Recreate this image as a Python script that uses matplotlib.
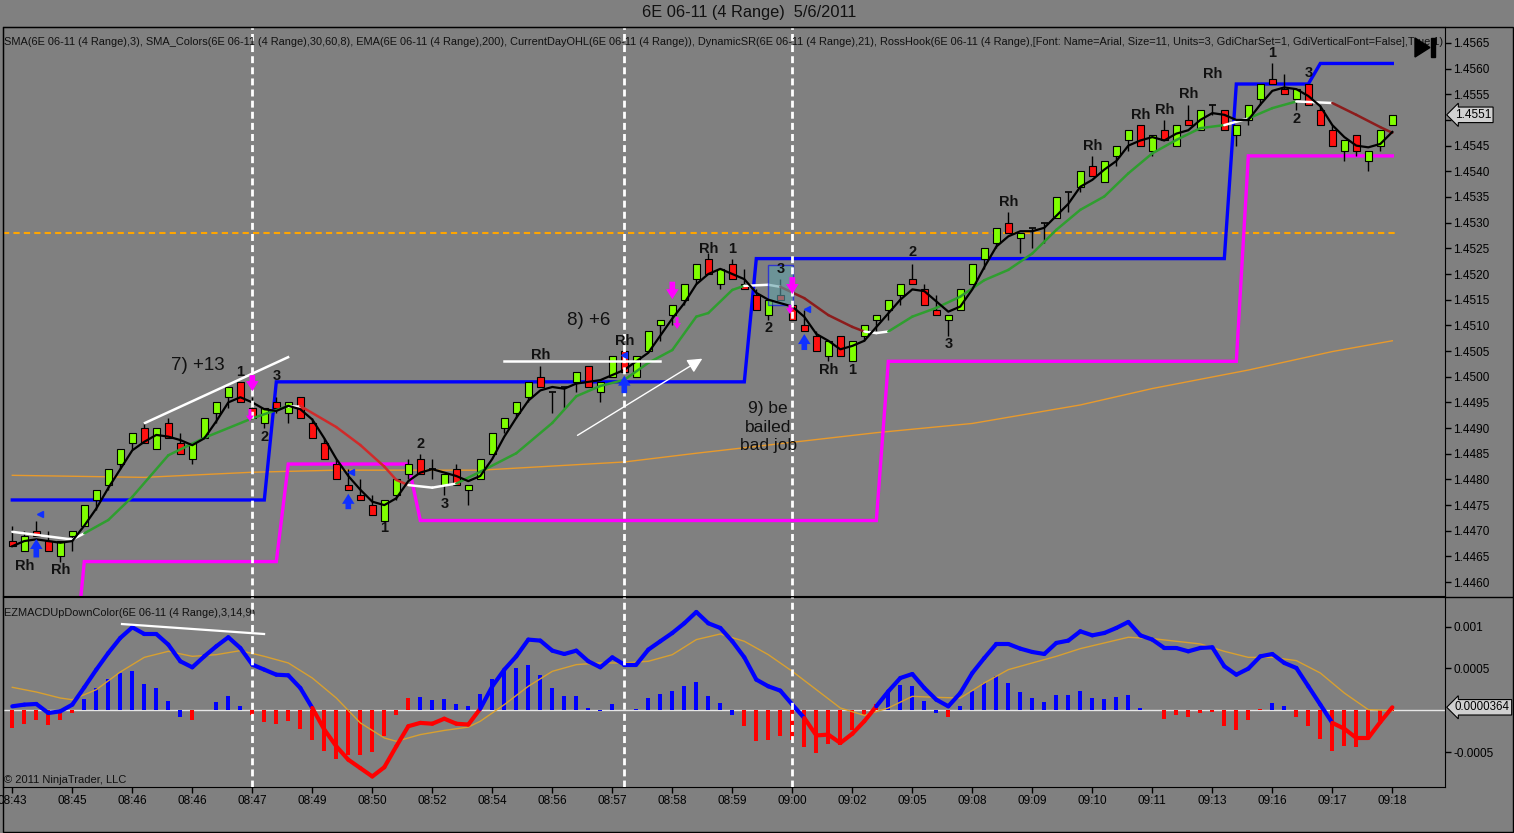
import matplotlib
matplotlib.use('Agg')
import matplotlib.pyplot as plt
import numpy as np
import pandas as pd
from matplotlib.collections import LineCollection
from matplotlib.lines import Line2D
from matplotlib.patches import Rectangle, Polygon

plt.rcParams['font.family'] = ['Liberation Sans', 'DejaVu Sans']

W, H = 1514, 833
BG = '#808080'

# ---- 4 range bars, 6E 06-11 ----
opens = [1.4468, 1.4466, 1.4470, 1.4468, 1.4465, 1.4469, 1.4471, 1.4476, 1.4479, 1.4483,
         1.4487, 1.4490, 1.4486, 1.4491, 1.4487, 1.4484, 1.4488, 1.4493, 1.4496, 1.4499,
         1.4494, 1.4491, 1.4495, 1.4493, 1.4496, 1.4491, 1.4487, 1.4483, 1.4479, 1.4477,
         1.4475, 1.4472, 1.4477, 1.4481, 1.4484, 1.4482, 1.4479, 1.4482, 1.4478, 1.4480,
         1.4485, 1.4490, 1.4493, 1.4496, 1.4500, 1.4497, 1.4498, 1.4499, 1.4502, 1.4497,
         1.4500, 1.4505, 1.4500, 1.4505, 1.4510, 1.4512, 1.4515, 1.4519, 1.4523, 1.4518,
         1.4522, 1.4518, 1.4516, 1.4512, 1.4516, 1.4514, 1.4510, 1.4508, 1.4504, 1.4508,
         1.4503, 1.4508, 1.4511, 1.4513, 1.4516, 1.4519, 1.4517, 1.4513, 1.4511, 1.4513,
         1.4518, 1.4523, 1.4526, 1.4530, 1.4527, 1.4529, 1.4530, 1.4531, 1.4536, 1.4537,
         1.4541, 1.4538, 1.4543, 1.4546, 1.4549, 1.4544, 1.4548, 1.4545, 1.4550, 1.4548,
         1.4553, 1.4552, 1.4547, 1.4550, 1.4554, 1.4558, 1.4556, 1.4554, 1.4557, 1.4552,
         1.4548, 1.4544, 1.4547, 1.4542, 1.4545, 1.4549]
highs = [1.4471, 1.4470, 1.4472, 1.4470, 1.4468, 1.4470, 1.4475, 1.4478, 1.4482, 1.4486,
         1.4489, 1.4491, 1.4490, 1.4492, 1.4489, 1.4487, 1.4492, 1.4495, 1.4498, 1.4499,
         1.4496, 1.4494, 1.4496, 1.4495, 1.4496, 1.4492, 1.4488, 1.4484, 1.4482, 1.4480,
         1.4477, 1.4476, 1.4480, 1.4484, 1.4485, 1.4484, 1.4481, 1.4483, 1.4479, 1.4484,
         1.4489, 1.4492, 1.4495, 1.4499, 1.4502, 1.4497, 1.4498, 1.4501, 1.4502, 1.4499,
         1.4504, 1.4505, 1.4504, 1.4509, 1.4511, 1.4514, 1.4518, 1.4522, 1.4524, 1.4521,
         1.4523, 1.4521, 1.4517, 1.4515, 1.4519, 1.4515, 1.4513, 1.4509, 1.4507, 1.4508,
         1.4507, 1.4510, 1.4512, 1.4515, 1.4518, 1.4522, 1.4518, 1.4516, 1.4512, 1.4517,
         1.4522, 1.4525, 1.4529, 1.4532, 1.4528, 1.4529, 1.4530, 1.4535, 1.4536, 1.4540,
         1.4543, 1.4542, 1.4545, 1.4548, 1.4549, 1.4547, 1.4550, 1.4549, 1.4553, 1.4552,
         1.4553, 1.4552, 1.4549, 1.4553, 1.4557, 1.4561, 1.4559, 1.4556, 1.4557, 1.4553,
         1.4549, 1.4546, 1.4547, 1.4544, 1.4548, 1.4551]
lows = [1.4467, 1.4466, 1.4469, 1.4466, 1.4464, 1.4466, 1.4471, 1.4474, 1.4478, 1.4482,
        1.4486, 1.4487, 1.4486, 1.4488, 1.4485, 1.4483, 1.4488, 1.4491, 1.4494, 1.4495,
        1.4492, 1.4490, 1.4493, 1.4491, 1.4492, 1.4488, 1.4484, 1.4480, 1.4478, 1.4476,
        1.4473, 1.4472, 1.4476, 1.4480, 1.4481, 1.4480, 1.4477, 1.4479, 1.4475, 1.4480,
        1.4485, 1.4489, 1.4492, 1.4495, 1.4498, 1.4493, 1.4494, 1.4497, 1.4498, 1.4495,
        1.4500, 1.4501, 1.4500, 1.4505, 1.4507, 1.4510, 1.4514, 1.4518, 1.4520, 1.4517,
        1.4519, 1.4517, 1.4513, 1.4511, 1.4515, 1.4511, 1.4509, 1.4505, 1.4503, 1.4504,
        1.4503, 1.4507, 1.4509, 1.4511, 1.4514, 1.4518, 1.4514, 1.4512, 1.4508, 1.4513,
        1.4518, 1.4521, 1.4525, 1.4528, 1.4524, 1.4525, 1.4526, 1.4531, 1.4532, 1.4536,
        1.4539, 1.4538, 1.4541, 1.4544, 1.4545, 1.4543, 1.4546, 1.4545, 1.4549, 1.4548,
        1.4551, 1.4548, 1.4545, 1.4549, 1.4553, 1.4557, 1.4555, 1.4552, 1.4553, 1.4549,
        1.4545, 1.4542, 1.4543, 1.4540, 1.4544, 1.4549]
closes = [1.4467, 1.4469, 1.4469, 1.4466, 1.4468, 1.4470, 1.4475, 1.4478, 1.4482, 1.4486,
          1.4489, 1.4487, 1.4490, 1.4488, 1.4485, 1.4487, 1.4492, 1.4495, 1.4498, 1.4495,
          1.4492, 1.4494, 1.4494, 1.4495, 1.4492, 1.4488, 1.4484, 1.4480, 1.4478, 1.4476,
          1.4473, 1.4476, 1.4480, 1.4483, 1.4481, 1.4482, 1.4481, 1.4479, 1.4479, 1.4484,
          1.4489, 1.4492, 1.4495, 1.4499, 1.4498, 1.4497, 1.4498, 1.4501, 1.4498, 1.4499,
          1.4504, 1.4501, 1.4504, 1.4509, 1.4511, 1.4514, 1.4518, 1.4522, 1.4520, 1.4521,
          1.4519, 1.4517, 1.4513, 1.4515, 1.4515, 1.4511, 1.4509, 1.4505, 1.4507, 1.4504,
          1.4507, 1.4510, 1.4512, 1.4515, 1.4518, 1.4518, 1.4514, 1.4512, 1.4512, 1.4517,
          1.4522, 1.4525, 1.4529, 1.4528, 1.4528, 1.4529, 1.4530, 1.4535, 1.4536, 1.4540,
          1.4539, 1.4542, 1.4545, 1.4548, 1.4545, 1.4547, 1.4546, 1.4549, 1.4549, 1.4552,
          1.4553, 1.4548, 1.4549, 1.4553, 1.4557, 1.4557, 1.4555, 1.4556, 1.4553, 1.4549,
          1.4545, 1.4546, 1.4544, 1.4544, 1.4548, 1.4551]

time_ticks = list(range(0, 116, 5))
time_labels = ['08:43', '08:45', '08:46', '08:46', '08:47', '08:49', '08:50', '08:52',
               '08:54', '08:56', '08:57', '08:58', '08:59', '09:00', '09:02', '09:05',
               '09:08', '09:09', '09:10', '09:11', '09:13', '09:16', '09:17', '09:18']

# DynamicSR levels per bar
sr_high = [1.4476] * 22 + [1.4499] * 40 + [1.4523] * 40 + [1.4557] * 7 + [1.4561] * 7
sr_low = [np.nan] * 5 + [1.4440] + [1.4464] * 17 + [1.4483] * 11 + [1.4472] * 39 + [1.4503] * 30 + [1.4543] * 13
prior_level = 1.4528

# SMA_Colors line, state per segment (w flat, g up, R/r down)
sma_idx = [0, 5, 6, 8, 10, 13, 16, 20, 22, 23, 24, 27, 29, 31, 32, 33, 35, 37, 39, 42,
           45, 47, 49, 51, 53, 55, 57, 58, 60, 61, 63, 64, 66, 68, 70, 71, 72, 73, 75, 77,
           79, 81, 83, 85, 87, 89, 91, 93, 95, 97, 99, 101, 103, 105, 107, 110, 112, 114, 115]
sma_val = [1.44698, 1.44683, 1.44695, 1.44721, 1.44766, 1.44847, 1.44881, 1.44919, 1.44935, 1.44943,
           1.44943, 1.44902, 1.44867, 1.44825, 1.44799, 1.44789, 1.44784, 1.44792, 1.44815, 1.44851,
           1.44910, 1.44962, 1.44982, 1.44994, 1.45027, 1.45052, 1.45117, 1.45124, 1.45169, 1.45177,
           1.45179, 1.45175, 1.45153, 1.45120, 1.45097, 1.45088, 1.45085, 1.45088, 1.45117, 1.45134,
           1.45156, 1.45188, 1.45208, 1.45240, 1.45286, 1.45325, 1.45351, 1.45396, 1.45435, 1.45461,
           1.45484, 1.45490, 1.45503, 1.45523, 1.45536, 1.45533, 1.45510, 1.45486, 1.45475]
sma_state = 'ww' + 'g' * 7 + 'w' + 'R' * 5 + 'ww' + 'g' * 12 + 'ww' + 'r' * 4 + 'ww' + 'g' * 14 + 'w' + 'gg' + 'w' + 'rrr'

# EMA(200)
ema_idx = [0, 11, 20, 27, 39, 51, 57, 72, 80, 89, 95, 103, 110, 115]
ema_val = [1.44808, 1.44804, 1.44814, 1.44818, 1.44818, 1.44834, 1.44851, 1.44891, 1.44909,
           1.44945, 1.44977, 1.45013, 1.45049, 1.45070]

# EZMACD (values x 1e-4)
macd_e4 = [0.48, 0.68, 0.76, -0.32, -0.12, 0.68, 2.75, 4.86, 6.85, 8.65,
           9.92, 9.12, 9.12, 7.85, 5.86, 5.14, 6.45, 7.65, 8.73, 7.45,
           5.46, 4.86, 4.26, 4.18, 2.67, 0.28, -2.3, -4.3, -5.9, -6.9,
           -7.9, -6.8, -4.3, -1.9, -1.5, -1.6, -1.0, -1.6, -1.7, 0.2,
           2.87, 4.86, 6.45, 8.45, 8.33, 7.13, 6.73, 7.13, 5.86, 5.14,
           6.33, 5.46, 5.46, 7.25, 8.25, 9.24, 10.4, 11.75, 10.4, 9.84,
           8.25, 6.33, 3.67, 2.87, 2.35, 0.68, -0.92, -3.0, -2.9, -3.9,
           -2.8, -1.3, 0.48, 2.27, 3.86, 4.34, 2.67, 1.27, 0.48, 2.07,
           4.46, 6.25, 7.93, 7.93, 7.37, 6.97, 6.73, 8.05, 8.33, 9.44,
           8.96, 9.24, 9.84, 10.56, 8.96, 8.45, 7.45, 7.45, 7.05, 7.45,
           7.53, 5.26, 4.26, 4.98, 6.45, 6.73, 5.66, 5.06, 2.87, 0.68,
           -1.5, -2.2, -3.3, -3.3, -1.4, 0.36]
macd_state = 'b' * 25 + 'r' * 14 + 'b' * 27 + 'r' * 6 + 'b' * 38 + 'r' * 5

hist_e4 = [-2.1, -1.6, -1.1, -1.8, -1.2, -0.3, 1.35, 2.67, 3.75, 4.46,
           4.74, 3.19, 2.67, 1.16, -0.84, -1.1, 0.0, 1.0, 1.75, 0.56,
           -0.5, -1.43, -1.6, -1.3, -2.2, -3.5, -4.8, -5.8, -5.3, -5.3,
           -5.0, -3.1, -0.6, 1.47, 1.6, 1.27, 1.4, 0.76, 0.56, 1.95,
           3.78, 4.66, 5.06, 5.46, 4.18, 2.67, 1.67, 1.67, 0.28, -0.12,
           0.76, 0.0, 0.16, 1.47, 1.95, 2.35, 2.95, 3.39, 1.67, 0.88,
           -0.52, -1.9, -3.7, -3.5, -3.1, -3.5, -4.4, -5.1, -4.0, -4.1,
           -2.3, -0.52, 0.76, 2.19, 2.99, 2.87, 1.08, -0.32, -0.84, 0.56,
           2.27, 3.27, 4.06, 3.27, 2.19, 1.47, 1.0, 1.87, 1.87, 2.27,
           1.47, 1.35, 1.59, 1.87, 0.28, 0.08, -1.0, -0.6, -0.84, -0.32,
           -0.2, -1.9, -2.3, -1.2, 0.16, 0.88, 0.48, -0.8, -1.9, -3.4,
           -4.8, -4.3, -4.4, -3.3, -1.3, -0.1]
hist_state = ('r' * 6 + 'b' * 9 + 'r' * 2 + 'b' * 3 + 'r' * 14 + 'b' * 27 + 'r' * 12
              + 'b' * 5 + 'r' + 'b' * 17 + 'r' * 9 + 'b' * 2 + 'r' * 9)

sig_idx = [0, 2, 4, 5, 7, 9, 11, 13, 15, 17, 19, 21, 23, 25, 27, 29, 31, 32, 34, 36,
           38, 39, 41, 43, 45, 47, 49, 51, 53, 55, 57, 59, 61, 63, 65, 67, 69, 71, 73, 75,
           77, 79, 81, 83, 85, 87, 89, 91, 93, 95, 97, 99, 101, 103, 105, 107, 109, 111, 113, 115]
sig_e4 = [2.75, 2.19, 1.47, 1.27, 2.47, 4.58, 6.33, 7.05, 6.45, 6.65,
          7.13, 6.45, 5.66, 3.86, 1.47, -1.5, -3.3, -3.7, -2.9, -2.4,
          -2.0, -1.3, 0.68, 2.87, 4.66, 5.46, 5.66, 5.66, 5.86, 6.65,
          8.45, 9.12, 8.25, 6.65, 4.66, 2.47, 0.28, -0.6, 0.28, 1.67,
          1.55, 1.47, 3.27, 4.86, 5.66, 6.45, 7.37, 8.05, 8.73, 8.57,
          8.25, 7.93, 7.05, 6.33, 6.33, 5.94, 4.46, 2.07, 0.08, -0.04]

session_lines = [20, 51, 65]


def fx(x):
    return x / W


def fy(y):
    return 1 - y / H


fig = plt.figure(figsize=(W / 100, H / 100), dpi=100, facecolor=BG)
ax = fig.add_axes([fx(3), fy(596), fx(1445) - fx(3), fy(27) - fy(596)], facecolor=BG)
ax2 = fig.add_axes([fx(3), fy(787), fx(1445) - fx(3), fy(597) - fy(787)], facecolor=BG)

idx = np.arange(len(closes))
o = np.array(opens)
h = np.array(highs)
l = np.array(lows)
c = np.array(closes)

# levels
ax.plot(ema_idx, ema_val, color='#e89a2c', lw=1.0, zorder=2)
ax.hlines(prior_level, -0.8, 115.5, color='#ffa500', lw=1.5, linestyles=(0, (3, 2)), zorder=2)
ax.plot(idx, sr_low, color='#ff00ff', lw=2.4, zorder=2, solid_joinstyle='miter')
ax.plot(idx, sr_high, color='#0000ff', lw=2.4, zorder=2, solid_joinstyle='miter')

# candles
ax.vlines(idx, l, h, color='black', lw=1.0, zorder=3)
up = c > o
dn = c < o
doji = c == o
ax.bar(idx[up], (c - o)[up], bottom=o[up], width=0.58, color='#80ff00', edgecolor='black', lw=0.8, zorder=4)
ax.bar(idx[dn], (o - c)[dn], bottom=c[dn], width=0.58, color='#ff1010', edgecolor='black', lw=0.8, zorder=4)
ax.hlines(o[doji], idx[doji] - 0.29, idx[doji] + 0.29, color='black', lw=1.2, zorder=4)

# SMA_Colors
state_col = {'w': 'white', 'g': '#2f9e2f', 'R': '#d02a2a', 'r': '#8c1c1c'}
segs = [[(sma_idx[k], sma_val[k]), (sma_idx[k + 1], sma_val[k + 1])] for k in range(len(sma_idx) - 1)]
ax.add_collection(LineCollection(segs, colors=[state_col[s] for s in sma_state], lw=1.8,
                                 capstyle='round', zorder=5))

# SMA(3)
sma3 = pd.Series(closes).rolling(3, min_periods=1).mean()
ax.plot(idx, sma3, color='black', lw=1.6, zorder=6)

# session dividers
for a in (ax, ax2):
    for s in session_lines:
        a.axvline(s, color='white', lw=2.0, ls=(0, (2.5, 1.5)), zorder=7)

# hand drawn lines
ax.plot([11.06, 22.98], [1.44910, 1.45038], color='white', lw=1.8, zorder=8)
ax.plot([40.98, 53.98], [1.45030, 1.45030], color='white', lw=1.8, zorder=8)
ax.annotate('', xy=(57.7, 1.45038), xytext=(46.9, 1.44883),
            arrowprops=dict(arrowstyle='-|>', color='white', lw=1.0, mutation_scale=22), zorder=8)
ax.add_patch(Rectangle((63.0, 1.45140), 2.08, 0.00078, facecolor='#5fa0a8', alpha=0.6,
                       edgecolor='#0000ff', lw=1.0, zorder=5))

# signal arrows
arrow_kw = 'simple,head_width=1.0,head_length=0.8,tail_width=0.45'
for xi, tail, tip in [(2, 1.44648, 1.44684), (28, 1.44742, 1.44772), (51, 1.44968, 1.45002), (66, 1.45052, 1.45083)]:
    ax.annotate('', xy=(xi, tip), xytext=(xi, tail),
                arrowprops=dict(arrowstyle=arrow_kw, color='#1030ff', lw=0, shrinkA=0, shrinkB=0,
                                mutation_scale=9), zorder=9)
for xi, tail, tip in [(20, 1.45003, 1.44972), (55, 1.45185, 1.45151), (65, 1.45194, 1.45161)]:
    ax.annotate('', xy=(xi, tip), xytext=(xi, tail),
                arrowprops=dict(arrowstyle=arrow_kw, color='#ff00ff', lw=0, shrinkA=0, shrinkB=0,
                                mutation_scale=9), zorder=9)
for xi, tail, tip in [(19.8, 1.44937, 1.44913), (55.4, 1.45116, 1.45093), (64.8, 1.45140, 1.45122)]:
    ax.annotate('', xy=(xi, tip), xytext=(xi, tail),
                arrowprops=dict(arrowstyle='simple,head_width=0.8,head_length=0.6,tail_width=0.3',
                                color='#ff00ff', lw=0, shrinkA=0, shrinkB=0, mutation_scale=7), zorder=9)
ax.plot([2.3, 28.2, 51.0, 66.2], [1.44733, 1.44814, 1.45043, 1.45131], ls='none', marker='<',
        color='#1030ff', ms=5, zorder=9)

# labels
for xi, yv in [(1, 1.44631), (4, 1.44623), (44, 1.45042), (51, 1.45070), (58, 1.45248), (68, 1.45014),
               (83, 1.45341), (90, 1.45449), (94, 1.45510), (96, 1.45520), (98, 1.45551), (100, 1.45590)]:
    ax.text(xi, yv, 'Rh', ha='center', va='center', fontsize=10.5, fontweight='bold', color='#111111', zorder=10)
for t, xi, yv in [('1', 19, 1.45009), ('2', 21, 1.44883), ('3', 22, 1.45001), ('1', 31, 1.44705),
                  ('2', 34, 1.44869), ('3', 36, 1.44752), ('1', 60, 1.45249), ('3', 64, 1.45209),
                  ('2', 63, 1.45094), ('1', 70, 1.45014), ('2', 75, 1.45242), ('3', 78, 1.45063),
                  ('1', 105, 1.45630), ('3', 108, 1.45591), ('2', 107, 1.45502)]:
    ax.text(xi, yv, t, ha='center', va='center', fontsize=10.5, fontweight='bold', color='#111111', zorder=10)

ax.text(15.5, 1.45021, '7) +13', ha='center', va='center', fontsize=13.5, color='#111111', zorder=10)
ax.text(48.0, 1.45110, '8) +6', ha='center', va='center', fontsize=13.5, color='#111111', zorder=10)
ax.text(63.0, 1.44902, '9) be\nbailed\nbad job', ha='center', va='center', fontsize=12.5,
        linespacing=1.3, color='#111111', zorder=10)

ax.text(0.0008, 0.9736, 'SMA(6E 06-11 (4 Range),3), SMA_Colors(6E 06-11 (4 Range),30,60,8), '
        'EMA(6E 06-11 (4 Range),200), CurrentDayOHL(6E 06-11 (4 Range)), DynamicSR(6E 06-11 (4 Range),21), '
        'RossHook(6E 06-11 (4 Range),[Font: Name=Arial, Size=11, Units=3, GdiCharSet=1, '
        'GdiVerticalFont=False],True,1)', transform=ax.transAxes, ha='left', va='center',
        fontsize=7.9, color='#111111', clip_on=True, zorder=10)

# main axis formatting
ax.set_xlim(-0.775, 119.39)
ax.set_ylim(1.44573, 1.45681)
ax.set_xticks([])
ax.yaxis.tick_right()
yt = np.arange(1.4460, 1.45651, 0.0005)
ax.set_yticks(yt)
# the 1.4550 label sits under the last-price marker
ax.set_yticklabels(['' if abs(v - 1.4550) < 1e-6 else f'{v:.4f}' for v in yt])
ax.tick_params(axis='y', direction='out', length=4, width=1, labelsize=8.5, pad=2, colors='black')
for sp in ax.spines.values():
    sp.set_color('black')
ax.text(1.0069, 1.4551, '1.4551', transform=ax.get_yaxis_transform(), ha='left', va='center',
        fontsize=8.5, color='black', zorder=20, clip_on=False,
        bbox=dict(boxstyle='larrow,pad=0.15', facecolor='#d0d0d0', edgecolor='black', lw=0.8))

# MACD panel
m = np.array(macd_e4) * 1e-4
hv = np.array(hist_e4) * 1e-4
ax2.axhline(0, color='#e6e6e6', lw=1.0, zorder=1)
ax2.bar(idx, hv, width=0.33, color=['#0000ff' if s == 'b' else '#ff0000' for s in hist_state], zorder=2)
ax2.plot(sig_idx, np.array(sig_e4) * 1e-4, color='#d8a030', lw=1.0, zorder=3)
msegs = [[(k, m[k]), (k + 1, m[k + 1])] for k in range(len(m) - 1)]
ax2.add_collection(LineCollection(msegs, colors=['#0000ff' if s == 'b' else '#ff0000' for s in macd_state],
                                  lw=3.0, capstyle='round', joinstyle='round', zorder=4))
ax2.plot([9.14, 20.98], [0.001031, 0.000912], color='white', lw=1.6, zorder=8)

ax2.set_xlim(-0.775, 119.39)
ax2.set_ylim(-0.000916, 0.001354)
ax2.yaxis.tick_right()
ax2.set_yticks([-0.0005, 0.0005, 0.001])
ax2.set_yticklabels(['-0.0005', '0.0005', '0.001'])
ax2.set_xticks(time_ticks)
ax2.set_xticklabels(time_labels)
ax2.tick_params(axis='both', direction='out', length=4, width=1, labelsize=8.5, pad=2, colors='black')
for sp in ax2.spines.values():
    sp.set_color('black')
ax2.text(1.0069, 0.0000364, '0.0000364', transform=ax2.get_yaxis_transform(), ha='left', va='center',
         fontsize=8.3, color='black', zorder=20, clip_on=False,
         bbox=dict(boxstyle='larrow,pad=0.15', facecolor='#d0d0d0', edgecolor='black', lw=0.8))
ax2.text(0.0008, 0.916, 'EZMACDUpDownColor(6E 06-11 (4 Range),3,14,9)', transform=ax2.transAxes,
         ha='left', va='center', fontsize=7.9, color='#111111')
ax2.text(0.0008, 0.035, '\u00a9 2011 NinjaTrader, LLC', transform=ax2.transAxes,
         ha='left', va='center', fontsize=8.0, color='#111111')

# title, frame and play icon
fig.text(fx(749), fy(12), '6E 06-11 (4 Range)  5/6/2011', ha='center', va='center', fontsize=11.8, color='#111111')
fig.add_artist(Rectangle((fx(3), fy(832)), fx(1513) - fx(3), fy(27) - fy(832), transform=fig.transFigure,
                         fill=False, edgecolor='black', lw=1.0))
fig.add_artist(Line2D([fx(1445), fx(1513)], [fy(596.5), fy(596.5)], transform=fig.transFigure, color='black', lw=1.0))
fig.add_artist(Polygon([(fx(1415), fy(38)), (fx(1415), fy(57)), (fx(1430), fy(47.5))], closed=True,
                       transform=fig.transFigure, facecolor='black', edgecolor='black'))
fig.add_artist(Rectangle((fx(1431), fy(57)), fx(1435) - fx(1431), fy(38) - fy(57), transform=fig.transFigure,
                         facecolor='black', edgecolor='black'))

fig.savefig('out.png', dpi=100, facecolor=BG)
